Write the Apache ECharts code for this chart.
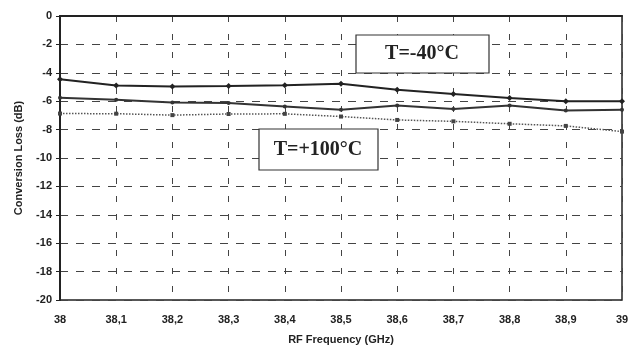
<!DOCTYPE html>
<html>
<head>
<meta charset="utf-8">
<script src="https://cdn.jsdelivr.net/npm/echarts@6/dist/echarts.min.js"></script>
<style>html,body{margin:0;padding:0;background:#fff;}#c{width:638px;height:350px;}</style>
</head>
<body>
<div id="c"></div>
<script>
const categories = ['38','38,1','38,2','38,3','38,4','38,5','38,6','38,7','38,8','38,9','39'];
const seriesTop = [-4.45,-4.90,-4.97,-4.93,-4.88,-4.77,-5.20,-5.49,-5.77,-6.01,-6.00];
const seriesMid = [-5.76,-5.89,-6.10,-6.13,-6.37,-6.61,-6.31,-6.55,-6.30,-6.65,-6.61];
const seriesLow = [-6.87,-6.88,-6.98,-6.90,-6.89,-7.08,-7.32,-7.42,-7.59,-7.74,-8.14];
const yMin = -20, yMax = 0, yStep = 2;

const chart = echarts.init(document.getElementById('c'), null, {renderer:'canvas'});
const lbl = {fontFamily:'Liberation Sans', fontWeight:'bold', fontSize:11, color:'#222'};
chart.setOption({
  animation:false,
  backgroundColor:'#ffffff',
  grid:{left:60, right:16, top:16, bottom:50, show:true, borderColor:'#222', borderWidth:1.5, backgroundColor:'transparent'},
  xAxis:{
    type:'category', data:categories, boundaryGap:false,
    name:'RF Frequency (GHz)', nameLocation:'middle', nameGap:34,
    nameTextStyle:Object.assign({}, lbl, {fontSize:11}),
    axisLine:{lineStyle:{color:'#222', width:2}},
    axisTick:{show:false},
    axisLabel:Object.assign({margin:14}, lbl),
    splitLine:{show:true, lineStyle:{color:'#444', type:[6,12], width:1}}
  },
  yAxis:{
    type:'value', min:yMin, max:yMax, interval:yStep,
    name:'Conversion Loss (dB)', nameLocation:'middle', nameGap:36,
    nameTextStyle:Object.assign({}, lbl, {fontSize:11}),
    axisLine:{show:true, lineStyle:{color:'#222', width:2}},
    axisTick:{show:true, length:4, lineStyle:{color:'#222'}},
    axisLabel:Object.assign({margin:8}, lbl),
    splitLine:{show:true, lineStyle:{color:'#444', type:[8,8], width:1}}
  },
  graphic:[
    {type:'rect', z:100, zlevel:1, shape:{x:356, y:35, width:133, height:38}, style:{fill:'#fff', stroke:'#333', lineWidth:1.2}},
    {type:'text', z:101, zlevel:1, x:422, y:54, style:{text:'T=-40°C', fontFamily:'Liberation Serif', fontWeight:'bold', fontSize:20, fill:'#222', align:'center', verticalAlign:'middle'}},
    {type:'rect', z:100, zlevel:1, shape:{x:259, y:129, width:119, height:41}, style:{fill:'#fff', stroke:'#333', lineWidth:1.2}},
    {type:'text', z:101, zlevel:1, x:318, y:150, style:{text:'T=+100°C', fontFamily:'Liberation Serif', fontWeight:'bold', fontSize:20, fill:'#222', align:'center', verticalAlign:'middle'}}
  ],
  series:[
    {type:'line', data:seriesTop, symbol:'diamond', symbolSize:6, lineStyle:{color:'#222', width:2}, itemStyle:{color:'#222'}},
    {type:'line', data:seriesMid, symbol:'circle', symbolSize:4, lineStyle:{color:'#333', width:2}, itemStyle:{color:'#333'}},
    {type:'line', data:seriesLow, symbol:'rect', symbolSize:4, lineStyle:{color:'#555', width:1.5, type:'dotted'}, itemStyle:{color:'#444'}}
  ]
});
</script>
</body>
</html>
